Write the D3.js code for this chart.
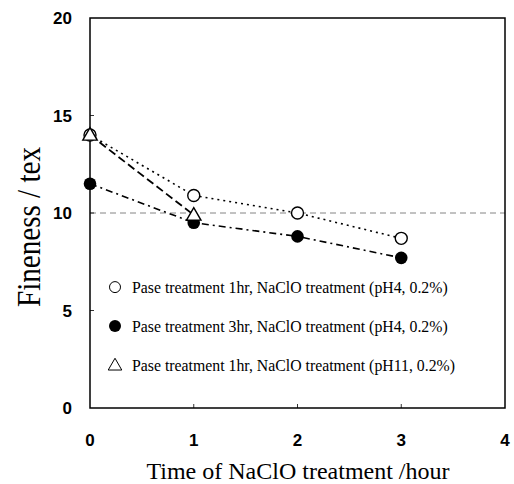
<!DOCTYPE html>
<html>
<head>
<meta charset="utf-8">
<script src="https://cdn.jsdelivr.net/npm/d3@7"></script>
<style>
  body { margin: 0; background: #fff; }
  svg { display: block; }
</style>
</head>
<body>
<div id="chart"></div>
<script>
const width = 514, height = 484;
const margin = { top: 18, left: 90, right: 9, bottom: 76 };

// data
const hours = [0, 1, 2, 3];
const pase1hrPH4 = [14.0, 10.9, 10.0, 8.7];
const pase3hrPH4 = [11.5, 9.5, 8.8, 7.7];
const pase1hrPH11 = [14.0, 9.9];
const xTicks = [0, 1, 2, 3, 4];
const yTicks = [0, 5, 10, 15, 20];
const labels = [
  "Pase treatment 1hr, NaClO treatment (pH4, 0.2%)",
  "Pase treatment 3hr, NaClO treatment (pH4, 0.2%)",
  "Pase treatment 1hr, NaClO treatment (pH11, 0.2%)"
];
const refLine = 10;

const svg = d3.select("#chart").append("svg")
  .attr("width", width)
  .attr("height", height);

const x = d3.scaleLinear().domain([0, 4]).range([margin.left, width - margin.right]);
const y = d3.scaleLinear().domain([0, 20]).range([height - margin.bottom, margin.top]);

// reference line
svg.append("line")
  .attr("x1", x(0)).attr("x2", x(4))
  .attr("y1", y(refLine)).attr("y2", y(refLine))
  .attr("stroke", "#666").attr("stroke-width", 0.8)
  .attr("stroke-dasharray", "6,4");

// frame
svg.append("rect")
  .attr("x", x(0)).attr("y", y(20))
  .attr("width", x(4) - x(0)).attr("height", y(0) - y(20))
  .attr("fill", "none").attr("stroke", "#000").attr("stroke-width", 1.5);

// small inner ticks
svg.append("g").selectAll("line").data(yTicks.slice(1, -1)).enter().append("line")
  .attr("x1", x(0)).attr("x2", x(0) + 4)
  .attr("y1", d => y(d)).attr("y2", d => y(d))
  .attr("stroke", "#000").attr("stroke-width", 0.8);
svg.append("g").selectAll("line").data(xTicks.slice(1, -1)).enter().append("line")
  .attr("x1", d => x(d)).attr("x2", d => x(d))
  .attr("y1", y(0)).attr("y2", y(0) - 4)
  .attr("stroke", "#000").attr("stroke-width", 0.8);

// tick labels
svg.append("g").selectAll("text").data(yTicks).enter().append("text")
  .attr("x", x(0) - 18).attr("y", d => y(d))
  .attr("dy", "0.36em").attr("text-anchor", "end")
  .style("font", "bold 17px 'Liberation Sans', Arial, sans-serif")
  .text(d => d);
svg.append("g").selectAll("text").data(xTicks).enter().append("text")
  .attr("x", d => x(d)).attr("y", y(0) + 32)
  .attr("dy", "0.36em").attr("text-anchor", "middle")
  .style("font", "bold 17px 'Liberation Sans', Arial, sans-serif")
  .text(d => d);

// axis titles
svg.append("text")
  .attr("transform", "translate(40,227) rotate(-90)")
  .attr("text-anchor", "middle")
  .attr("textLength", 160)
  .attr("lengthAdjust", "spacingAndGlyphs")
  .style("font", "33px 'Liberation Serif', 'Times New Roman', serif")
  .text("Fineness / tex");
svg.append("text")
  .attr("x", 298).attr("y", 479)
  .attr("text-anchor", "middle")
  .style("font", "24px 'Liberation Serif', 'Times New Roman', serif")
  .text("Time of NaClO treatment /hour");

const line = d3.line().x(d => x(d[0])).y(d => y(d[1]));
const pts = vals => vals.map((v, i) => [hours[i], v]);

// series lines
svg.append("path").datum(pts(pase1hrPH4)).attr("d", line)
  .attr("fill", "none").attr("stroke", "#000").attr("stroke-width", 1.6)
  .attr("stroke-dasharray", "2,4");
svg.append("path").datum(pts(pase3hrPH4)).attr("d", line)
  .attr("fill", "none").attr("stroke", "#000").attr("stroke-width", 1.6)
  .attr("stroke-dasharray", "7,4,2,4");
svg.append("path").datum(pts(pase1hrPH11)).attr("d", line)
  .attr("fill", "none").attr("stroke", "#000").attr("stroke-width", 1.8)
  .attr("stroke-dasharray", "8,4");

// markers
const tri = d3.symbol().type(d3.symbolTriangle).size(90);
svg.append("g").selectAll("circle").data(pts(pase1hrPH4)).enter().append("circle")
  .attr("cx", d => x(d[0])).attr("cy", d => y(d[1])).attr("r", 6)
  .attr("fill", "#fff").attr("stroke", "#000").attr("stroke-width", 1.4);
svg.append("g").selectAll("circle").data(pts(pase3hrPH4)).enter().append("circle")
  .attr("cx", d => x(d[0])).attr("cy", d => y(d[1])).attr("r", 6.3)
  .attr("fill", "#000");
svg.append("g").selectAll("path").data(pts(pase1hrPH11)).enter().append("path")
  .attr("d", tri)
  .attr("transform", d => `translate(${x(d[0])},${y(d[1]) + 1})`)
  .attr("fill", "#fff").attr("stroke", "#000").attr("stroke-width", 1.4);

// legend
const legY = [y(6.2), y(4.2), y(2.2)];
const leg = svg.append("g");
leg.append("circle").attr("cx", 115).attr("cy", legY[0]).attr("r", 5.5)
  .attr("fill", "#fff").attr("stroke", "#000").attr("stroke-width", 1);
leg.append("circle").attr("cx", 115).attr("cy", legY[1]).attr("r", 6)
  .attr("fill", "#000");
leg.append("path").attr("d", d3.symbol().type(d3.symbolTriangle).size(80))
  .attr("transform", `translate(115,${legY[2] + 1})`)
  .attr("fill", "#fff").attr("stroke", "#000").attr("stroke-width", 1);
leg.selectAll("text").data(labels).enter().append("text")
  .attr("x", 132).attr("y", (d, i) => legY[i])
  .attr("dy", "0.35em")
  .style("font", "15.8px 'Liberation Serif', 'Times New Roman', serif")
  .text(d => d);
</script>
</body>
</html>
